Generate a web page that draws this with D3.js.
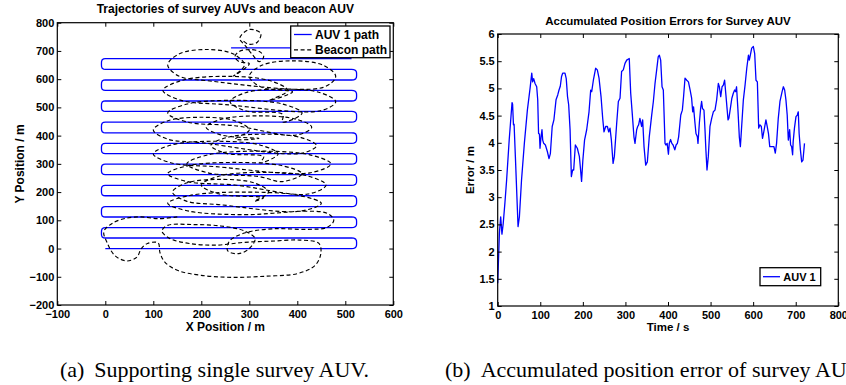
<!DOCTYPE html>
<html><head><meta charset="utf-8">
<script src="https://cdn.jsdelivr.net/npm/d3@7"></script>
<style>
body{margin:0;background:#fff;}
svg{display:block;}
</style></head><body>
<svg id="c" width="846" height="385"></svg>
<script>
// ---------------- DATA ----------------
// (a) survey AUV lawnmower lanes (y of each lane, m) and lane x-extent
const laneY = [0,37.3,74,111.7,148.5,187,224,261.7,299,336,372.6,410,448,486,522.6,560,597,634.7,672.5];
const laneX = [0, 513];
const topLane = [[262,710.6],[420,710.6]];
// (a) beacon AUV path (x, y in m)
const beacon = [
[150,112],[110,106],[75,112],[45,108],[15,90],[-3,60],[4,20],[20,-25],[45,-44],[66,-30],[75,0],[88,18],[110,20],
[114,-15],[124,-48],[150,-77],[200,-95],[262,-102],[335,-98],[402,-88],[437,-60],[449,-18],[445,18],
[405,30],[345,26],[290,22],[230,12],[175,18],[135,35],[118,62],[130,82],
[180,85],[240,80],[290,62],[312,35],[300,0],[278,-18],[255,-8],[258,25],[290,55],
[350,70],[420,68],[462,75],[476,100],[462,125],[410,132],[350,125],
[290,120],[176,132],[130,160],[176,188],[290,200],[404,188],[450,160],[404,132],
[240,155],[169,168],[140,200],[169,232],[240,245],[311,232],[340,200],[311,168],
[330,180],[238,193],[200,225],[238,257],[330,270],[422,257],[460,225],[422,193],
[270,225],[171,237],[130,265],[171,293],[270,305],[369,293],[410,265],[369,237],
[320,255],[214,268],[170,300],[214,332],[320,345],[426,332],[470,300],[426,268],
[230,290],[138,303],[100,335],[138,367],[230,380],[322,367],[360,335],[322,303],
[330,325],[252,337],[220,365],[252,393],[330,405],[408,393],[440,365],[408,337],
[200,375],[129,388],[100,420],[129,452],[200,465],[271,452],[300,420],[271,388],
[320,390],[242,402],[210,430],[242,458],[320,470],[398,458],[430,430],[398,402],
[270,435],[171,448],[130,480],[171,512],[270,525],[369,512],[410,480],[369,448],
[370,475],[292,488],[260,520],[292,552],[370,565],[448,552],[480,520],[448,488],
[250,510],[158,525],[120,560],[158,595],[250,610],[342,595],[380,560],[342,525],
[390,555],[326,571],[300,610],[326,649],[390,665],[454,649],[480,610],[454,571],
[210,595],[153,611],[130,650],[153,689],[210,705],[267,689],[290,650],[267,611],
[300,655],[279,662],[270,680],[279,698],[300,705],[321,698],[330,680],[321,662],
[305,690],[292,718],[280,745],[300,776],[324,762],[316,730],[298,724],[286,738]
];
const xTicksA = [-100,0,100,200,300,400,500,600];
const yTicksA = [-200,-100,0,100,200,300,400,500,600,700,800];

// (b) accumulated position error of AUV 1: [time s, error m]
const auvError = [
[0,1.42],[4,2.34],[7,2.64],[10,2.32],[13,2.52],[17,2.9],[21,3.32],[27,4.05],[33.7,4.74],[35,4.71],[37,4.33],[38.5,4.34],
[41.5,3.75],[47.8,2.46],[51,2.64],[56,3.32],[62.6,3.99],[69.7,4.6],[76,5.0],[80,5.28],[82,5.12],[84.5,5.18],[87.7,5.09],
[91.6,5.03],[94,4.79],[96,4.17],[98,4.16],[99.4,3.9],[101.8,4.11],[104,4.24],[105.7,4.05],[108,3.99],[112,3.96],[116.6,3.84],
[120.5,3.71],[123.7,3.8],[128,4.3],[132,4.42],[137,4.79],[141,4.88],[144,4.97],[147,5.04],[150,5.22],[152.6,5.28],[158,5.28],
[161,5.18],[164,4.85],[166.7,4.7],[170,4.24],[173,3.38],[176,3.5],[178.5,3.5],[182.4,3.96],[187,3.9],[191.8,3.75],[194,3.56],
[197,3.29],[200,3.68],[204,4.05],[209,4.24],[214.5,4.57],[218.4,4.97],[220.8,4.94],[224.7,5.15],[230,5.37],[234,5.34],[238,5.19],
[242.7,4.85],[246.6,4.45],[249.7,4.2],[253.6,4.3],[257.6,4.3],[260.7,4.2],[263.8,4.27],[267,4.05],[271,3.62],[274,3.75],
[279.5,4.36],[283.4,4.76],[287.3,4.82],[291,5.31],[295,5.34],[299,5.46],[303,5.52],[309,5.55],[312.4,4.91],[316,4.54],
[320,4.11],[322.5,3.99],[326.4,4.24],[328.8,4.3],[331,4.33],[334,4.45],[338,4.3],[340.5,4.42],[343.7,3.93],[347.6,3.59],
[351.5,3.65],[356,4.11],[361.7,4.51],[365.6,4.76],[369.5,5.09],[373.4,5.34],[377,5.58],[379.7,5.61],[382.8,5.52],[386,5.03],
[389,4.97],[393,3.99],[395,3.96],[398,3.99],[401,3.79],[403,3.99],[406,4.06],[409,3.99],[412,3.96],[416,3.87],[419,3.96],
[422,3.99],[425,4.11],[430,4.51],[433.7,4.6],[436.6,4.85],[440,5.19],[444,5.15],[448,5.12],[452,4.97],[455.5,4.82],[458,4.57],
[460,4.66],[463.4,4.36],[465.7,4.17],[469,4.11],[470.4,3.99],[473.6,4.36],[476.6,4.63],[479,4.76],[481,4.63],[484.5,4.6],
[486.9,4.24],[489,3.87],[491.6,3.5],[494.7,3.75],[498.6,4.3],[502.6,4.45],[506.5,4.57],[510.4,4.6],[514.3,4.79],[518.2,5.09],
[520.6,5.03],[523.8,4.85],[527,5.03],[530,5.06],[533,5.15],[536,4.88],[541,4.42],[543,4.45],[547,4.66],[550,4.82],[553.4,4.91],
[556.5,4.97],[558.8,4.94],[561,5.03],[564.3,4.6],[567.5,4.11],[570,3.93],[573,4.3],[577,4.79],[581,5.06],[585,5.37],[588.9,5.61],
[591,5.52],[593.4,5.61],[596.6,5.74],[600.5,5.77],[603.6,5.64],[606.7,5.15],[609.9,5.12],[613,4.27],[616,4.33],[619.2,4.3],
[622,4.08],[625,4.2],[630,4.42],[633,4.3],[636,4.17],[639,3.93],[644,3.93],[648.8,3.93],[652,3.81],[655,3.99],[659,4.45],
[663,4.76],[668,4.94],[671,5.03],[674,4.97],[677,4.79],[680,4.51],[682.6,4.05],[685.7,4.24],[688,3.96],[690.4,3.93],[692.7,3.78],
[694,4.02],[697,4.27],[700.6,4.48],[703.7,4.51],[706,4.57],[708,4.17],[711,3.87],[714,3.65],[717,3.68],[720.6,3.99]
];
const xTicksB = [0,100,200,300,400,500,600,700,800];
const yTicksB = [1,1.5,2,2.5,3,3.5,4,4.5,5,5.5,6];

const titles = ["Trajectories of survey AUVs and beacon AUV","Accumulated Position Errors for Survey AUV"];
const captionTags = ["(a)","(b)"];
const captions = ["Supporting single survey AUV.","Accumulated position error of survey AUV."];

// ---------------- DRAW ----------------
const svg = d3.select("#c");
const BLUE = "#0000ff";
const SANS = "'Liberation Sans',Arial,Helvetica,sans-serif";
const SERIF = "'Liberation Serif','Times New Roman',serif";

function label(g, x, y, txt, size, opts={}) {
  const t = g.append("text").attr("x",x).attr("y",y).style("font-family",SANS)
    .attr("font-size",size).attr("font-weight","bold").attr("fill","#000").text(txt);
  if (opts.anchor) t.attr("text-anchor",opts.anchor);
  if (opts.rotate) t.attr("x",0).attr("y",0).attr("transform",`translate(${x},${y}) rotate(-90)`);
  return t;
}

function frame(g, x, y, xt, yt, fs, tfmt) {
  const [x0,x1] = x.range(), [y0,y1] = y.range();
  const ax = (sel) => { sel.selectAll("text").style("font-family",SANS).attr("font-size", fs).attr("font-weight","bold").attr("fill","#000");
    sel.select(".domain").remove(); sel.selectAll("line").attr("stroke","#000"); };
  g.append("g").attr("transform",`translate(0,${y0})`)
    .call(d3.axisBottom(x).tickValues(xt).tickSize(-4).tickPadding(5).tickFormat(tfmt)).call(ax);
  g.append("g").attr("transform",`translate(0,${y1})`)
    .call(d3.axisTop(x).tickValues(xt).tickSize(-4).tickFormat("")).call(ax);
  g.append("g").attr("transform",`translate(${x0},0)`)
    .call(d3.axisLeft(y).tickValues(yt).tickSize(-4).tickPadding(3).tickFormat(tfmt)).call(ax);
  g.append("g").attr("transform",`translate(${x1},0)`)
    .call(d3.axisRight(y).tickValues(yt).tickSize(-4).tickFormat("")).call(ax);
  g.append("rect").attr("x",x0).attr("y",y1).attr("width",x1-x0).attr("height",y0-y1)
    .attr("fill","none").attr("stroke","#000").attr("stroke-width",1.2);
}

// ---- chart (a)
const xA = d3.scaleLinear([-100,600],[57.3,393.3]);
const yA = d3.scaleLinear([-200,800],[305,22.7]);
const gA = svg.append("g");
svg.append("clipPath").attr("id","clipA").append("rect")
  .attr("x",57.3).attr("y",22.7).attr("width",336).attr("height",282.3);

// lawnmower path with rounded turns
const capShape = [[0.45,0.02],[0.8,0.1],[0.97,0.25],[1,0.4],[1,0.6],[0.97,0.75],[0.8,0.9],[0.45,0.98]];
const lawn = [];
laneY.forEach((y,i) => {
  const right = i % 2 === 0;
  const xs = right ? laneX[0] : laneX[1], xe = right ? laneX[1] : laneX[0];
  lawn.push([xs,y],[xe,y]);
  if (i < laneY.length-1) {
    const h = laneY[i+1]-y, depth = right ? 10.5 : -8;
    capShape.forEach(([fx,fy]) => lawn.push([xe + depth*fx, y + h*fy]));
  }
});
const lineA = d3.line().x(d=>xA(d[0])).y(d=>yA(d[1]));
const plotA = gA.append("g").attr("clip-path","url(#clipA)");
plotA.append("path").attr("d",lineA(lawn)).attr("fill","none").attr("stroke",BLUE).attr("stroke-width",1.3);
plotA.append("path").attr("d",lineA(topLane)).attr("fill","none").attr("stroke",BLUE).attr("stroke-width",1.3);
plotA.append("path").attr("d",d3.line().x(d=>xA(d[0])).y(d=>yA(d[1])).curve(d3.curveCatmullRom.alpha(0.5))(beacon))
  .attr("fill","none").attr("stroke","#000").attr("stroke-width",1.15).attr("stroke-dasharray","4,2.6");
frame(gA, xA, yA, xTicksA, yTicksA, 11, d3.format(""));

label(gA, 225.3, 12.8, titles[0], 12, {anchor:"middle"});
label(gA, 225.3, 331, "X Position / m", 12, {anchor:"middle"});
label(gA, 24, 164, "Y Position / m", 12, {anchor:"middle", rotate:true});

// legend (a)
const lgA = gA.append("g");
lgA.append("rect").attr("x",290.7).attr("y",26).attr("width",99.3).attr("height",31.7)
  .attr("fill","#fff").attr("stroke","#000").attr("stroke-width",1.3);
lgA.append("line").attr("x1",294).attr("x2",311.7).attr("y1",34.5).attr("y2",34.5).attr("stroke",BLUE).attr("stroke-width",1.3);
lgA.append("line").attr("x1",294).attr("x2",311.7).attr("y1",49.8).attr("y2",49.8).attr("stroke","#000")
  .attr("stroke-width",1.15).attr("stroke-dasharray","4,2.6");
label(lgA, 315, 39, "AUV 1 path", 12);
label(lgA, 315, 54.2, "Beacon path", 12);

// ---- chart (b)
const xB = d3.scaleLinear([0,800],[497.7,838.3]);
const yB = d3.scaleLinear([1,6],[306,34]);
const gB = svg.append("g");
gB.append("path").attr("d",d3.line().x(d=>xB(d[0])).y(d=>yB(d[1]))(auvError))
  .attr("fill","none").attr("stroke",BLUE).attr("stroke-width",1.3).attr("stroke-linejoin","round");
frame(gB, xB, yB, xTicksB, yTicksB, 11, d=>String(d));
label(gB, 668, 25, titles[1], 11.5, {anchor:"middle"});
label(gB, 668, 331, "Time / s", 11.5, {anchor:"middle"});
label(gB, 474, 170, "Error / m", 11.5, {anchor:"middle", rotate:true});
const lgB = gB.append("g");
lgB.append("rect").attr("x",760).attr("y",267.7).attr("width",60.7).attr("height",18)
  .attr("fill","#fff").attr("stroke","#000").attr("stroke-width",1.3);
lgB.append("line").attr("x1",763).attr("x2",780).attr("y1",276.7).attr("y2",276.7).attr("stroke",BLUE).attr("stroke-width",1.3);
label(lgB, 783.3, 280.7, "AUV 1", 11);

// captions (sub-figure tag, wider gap, then text)
[[60,94.3],[445,480.7]].forEach(([xt,xc],i) => {
  const t = svg.append("text").attr("y",377).style("font-family",SERIF).attr("font-size",22).attr("fill","#000");
  t.append("tspan").attr("x",xt).text(captionTags[i]);
  t.append("tspan").attr("x",xc).text(captions[i]);
});
</script>
</body></html>
